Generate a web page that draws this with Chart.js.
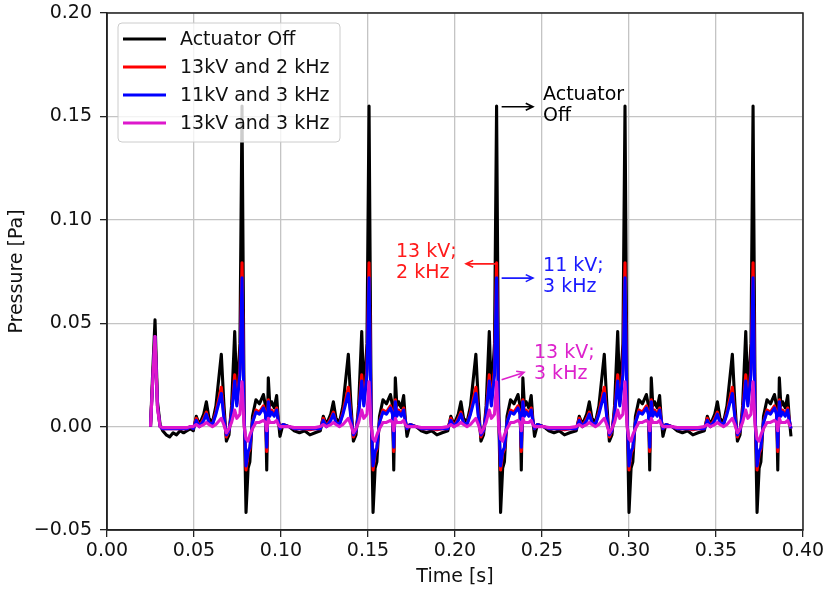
<!DOCTYPE html>
<html>
<head>
<meta charset="utf-8">
<script src="https://cdn.jsdelivr.net/npm/chart.js@4.4.0/dist/chart.umd.min.js"></script>
<style>
  html, body { margin: 0; padding: 0; background: #fff; }
  #wrap { width: 827px; height: 591px; }
</style>
</head>
<body>
<div id="wrap"><canvas id="pressureChart" width="827" height="591"></canvas></div>
<script>
// times (s) of the big spikes, one per cycle
const peakTimes = [0.0776, 0.1506, 0.2239, 0.2977, 0.3713];
const endTime = 0.3932;

// first little spike at the start of the record
const startTimes = [0.0250, 0.0262, 0.0276, 0.0290, 0.0305, 0.0320, 0.0340, 0.0360, 0.0380, 0.0400, 0.0420, 0.0440, 0.0460, 0.0480];
const offStart   = [0, 0.025, 0.0516, 0.012, 0.001, -0.002, -0.004, -0.005, -0.003, -0.004, -0.002, -0.003, -0.002, -0.001];
const red2kStart = [0, 0.021, 0.0436, 0.010, 0.000, -0.001, -0.001, -0.001, -0.001, -0.001, -0.001, -0.001, -0.001, 0];
const blue3kStart = [0, 0.021, 0.0436, 0.010, 0.000, -0.001, -0.001, -0.001, -0.001, -0.001, -0.001, -0.001, -0.001, 0];
const mag3kStart = [0, 0.021, 0.0436, 0.009, 0.000, -0.0005, -0.0005, -0.0005, -0.0005, -0.0005, -0.0005, -0.0005, -0.0005, 0];

// one cycle, time relative to the spike (s)
const cycleOffsets = [-0.0280, -0.0263, -0.0245, -0.0220, -0.0205, -0.0190, -0.0170, -0.0150, -0.0119, -0.0105,
  -0.0090, -0.0075, -0.0060, -0.0042, -0.0030, -0.0012, 0, 0.0012, 0.0023, 0.0035,
  0.0045, 0.0060, 0.0080, 0.0100, 0.0123, 0.0135, 0.0142, 0.0151, 0.0160, 0.0170,
  0.0185, 0.0199, 0.0208, 0.0218, 0.0235, 0.0270, 0.0300, 0.0330, 0.0360, 0.0390, 0.0420];

const offCycle = [-0.002, 0.005, 0.001, 0.006, 0.012, 0.004, 0.002, 0.010, 0.035, 0.012,
  -0.007, -0.004, 0.010, 0.046, 0.015, 0.040, 0.155, 0.010, -0.0415, -0.020,
  -0.017, 0.005, 0.013, 0.011, 0.0155, 0.010, -0.021, 0.0236, 0.010, 0.012,
  0.009, 0.015, 0.004, -0.0047, 0.001, 0.000, -0.002, -0.003, -0.002, -0.004, -0.003];

const red2kCycle = [-0.001, 0.004, 0.000, 0.004, 0.007, 0.002, 0.001, 0.007, 0.019, 0.006,
  -0.005, -0.002, 0.007, 0.025, 0.011, 0.028, 0.0792, 0.005, -0.021, -0.013,
  -0.011, 0.002, 0.008, 0.007, 0.010, 0.007, -0.012, 0.013, 0.006, 0.008,
  0.006, 0.009, 0.003, -0.001, 0.001, 0.000, -0.001, -0.001, -0.001, -0.0015, -0.001];

const blue3kCycle = [-0.001, 0.003, 0.000, 0.003, 0.006, 0.002, 0.001, 0.006, 0.016, 0.005,
  -0.004, -0.002, 0.006, 0.022, 0.010, 0.025, 0.072, 0.005, -0.019, -0.012,
  -0.010, 0.002, 0.007, 0.006, 0.009, 0.006, -0.010, 0.012, 0.005, 0.007,
  0.005, 0.008, 0.003, -0.001, 0.001, 0.000, -0.001, -0.001, -0.001, -0.001, -0.001];

const mag3kCycle = [0.000, 0.001, 0.000, 0.001, 0.002, 0.001, 0.000, 0.001, 0.004, 0.001,
  -0.003, -0.001, 0.002, 0.008, 0.004, 0.006, 0.0217, 0.000, -0.006, -0.007,
  -0.004, -0.001, 0.002, 0.002, 0.003, 0.002, -0.002, 0.004, 0.002, 0.002,
  0.002, 0.003, 0.001, 0.000, 0.000, 0.000, -0.0005, -0.0005, -0.0005, -0.0005, -0.0005];

const seriesLabels = ["Actuator Off", "13kV and 2 kHz", "11kV and 3 kHz", "13kV and 3 kHz"];
const seriesColors = ["#000000", "#ff0000", "#0000ff", "#dd18cc"];

const xTicks = [0, 0.05, 0.10, 0.15, 0.20, 0.25, 0.30, 0.35, 0.40];
const yTicks = [-0.05, 0, 0.05, 0.10, 0.15, 0.20];

// text notes with arrows, in data units
const notes = [
  { lines: ["Actuator", "Off"], color: "#000000", tx: 0.2506, ty: 0.1604, from: [0.2268, 0.1547], to: [0.2448, 0.1547] },
  { lines: ["13 kV;", "2 kHz"], color: "#ff1a1a", tx: 0.1661, ty: 0.0845, from: [0.2240, 0.0787], to: [0.2063, 0.0787] },
  { lines: ["11 kV;", "3 kHz"], color: "#1a1aff", tx: 0.2506, ty: 0.0778, from: [0.2268, 0.0718], to: [0.2448, 0.0718] },
  { lines: ["13 kV;", "3 kHz"], color: "#dd22cc", tx: 0.2454, ty: 0.0357, from: [0.2268, 0.0227], to: [0.2397, 0.0262] }
];

function buildSeries(startVals, cycleVals) {
  const pts = startTimes.map((t, i) => ({ x: t, y: startVals[i] }));
  peakTimes.forEach(tp => {
    cycleOffsets.forEach((d, i) => {
      const t = +(tp + d).toFixed(5);
      if (t <= endTime) pts.push({ x: t, y: cycleVals[i] });
    });
  });
  return pts;
}

const allSeries = [
  buildSeries(offStart, offCycle),
  buildSeries(red2kStart, red2kCycle),
  buildSeries(blue3kStart, blue3kCycle),
  buildSeries(mag3kStart, mag3kCycle)
];

const FONT = "DejaVu Sans";
Chart.defaults.font.family = FONT;
Chart.defaults.font.size = 19;
Chart.defaults.color = "#111";

function fmt(v) {
  if (Math.abs(v) < 1e-9) return "0.00";
  return (v < 0 ? "\u2212" : "") + Math.abs(v).toFixed(2);
}

const frameAndNotes = {
  id: "frameAndNotes",
  afterDatasetsDraw(chart) {
    const ctx = chart.ctx;
    const a = chart.chartArea;
    const xs = chart.scales.x;
    const ys = chart.scales.y;

    // notes
    ctx.save();
    ctx.font = "19px " + FONT;
    ctx.textBaseline = "middle";
    ctx.textAlign = "left";
    notes.forEach(n => {
      ctx.fillStyle = n.color;
      n.lines.forEach((line, i) => {
        ctx.fillText(line, xs.getPixelForValue(n.tx), ys.getPixelForValue(n.ty) + i * 21);
      });
      const x1 = xs.getPixelForValue(n.from[0]), y1 = ys.getPixelForValue(n.from[1]);
      const x2 = xs.getPixelForValue(n.to[0]), y2 = ys.getPixelForValue(n.to[1]);
      const ang = Math.atan2(y2 - y1, x2 - x1);
      ctx.strokeStyle = n.color;
      ctx.lineWidth = 1.6;
      ctx.beginPath();
      ctx.moveTo(x1, y1);
      ctx.lineTo(x2, y2);
      ctx.moveTo(x2 - 8 * Math.cos(ang - 0.45), y2 - 8 * Math.sin(ang - 0.45));
      ctx.lineTo(x2, y2);
      ctx.lineTo(x2 - 8 * Math.cos(ang + 0.45), y2 - 8 * Math.sin(ang + 0.45));
      ctx.stroke();
    });

    // legend
    const lx = a.left + 11, ly = a.top + 10, lw = 222, lh = 119;
    ctx.beginPath();
    ctx.roundRect(lx, ly, lw, lh, 4);
    ctx.fillStyle = "rgba(255,255,255,0.8)";
    ctx.fill();
    ctx.strokeStyle = "#cccccc";
    ctx.lineWidth = 1;
    ctx.stroke();
    chart.data.datasets.forEach((ds, i) => {
      const ry = ly + 16 + i * 28;
      ctx.strokeStyle = ds.borderColor;
      ctx.lineWidth = 3;
      ctx.beginPath();
      ctx.moveTo(lx + 5, ry);
      ctx.lineTo(lx + 48, ry);
      ctx.stroke();
      ctx.fillStyle = "#111";
      ctx.fillText(ds.label, lx + 62, ry + 1);
    });

    // frame
    ctx.strokeStyle = "#222";
    ctx.lineWidth = 1.5;
    ctx.strokeRect(a.left, a.top, a.right - a.left, a.bottom - a.top);
    ctx.restore();
  }
};

const ctx = document.getElementById("pressureChart").getContext("2d");
new Chart(ctx, {
  type: "line",
  data: {
    datasets: allSeries.map((pts, i) => ({
      label: seriesLabels[i],
      data: pts,
      borderColor: seriesColors[i],
      backgroundColor: seriesColors[i],
      borderWidth: 3.1,
      borderJoinStyle: "round",
      pointRadius: 0,
      tension: 0,
      fill: false,
      order: 4 - i
    }))
  },
  options: {
    responsive: false,
    animation: false,
    layout: { padding: { left: 0, right: 24, top: 13, bottom: 0 } },
    plugins: { legend: { display: false }, tooltip: { enabled: false } },
    scales: {
      x: {
        type: "linear",
        min: 0,
        max: 0.4,
        afterFit(scale) {
          scale.height = 61;
          scale.paddingLeft = 0;
          scale.paddingRight = 0;
        },
        afterBuildTicks(scale) { scale.ticks = xTicks.map(v => ({ value: v })); },
        ticks: { callback: v => fmt(v), padding: 3, maxRotation: 0, color: "#111" },
        grid: { color: "#c4c4c4", lineWidth: 1.3, tickColor: "#222", tickLength: 7, tickWidth: 1.3 },
        border: { color: "#222", width: 1.5 },
        title: { display: true, text: "Time [s]", color: "#111", padding: { top: 0, bottom: 3 } }
      },
      y: {
        min: -0.05,
        max: 0.2,
        afterFit(scale) {
          scale.width = 107;
          scale.paddingTop = 0;
          scale.paddingBottom = 0;
        },
        afterBuildTicks(scale) { scale.ticks = yTicks.map(v => ({ value: v })); },
        ticks: { callback: v => fmt(v), padding: 8, color: "#111" },
        grid: { color: "#c4c4c4", lineWidth: 1.3, tickColor: "#222", tickLength: 7, tickWidth: 1.3 },
        border: { color: "#222", width: 1.5 },
        title: { display: true, text: "Pressure [Pa]", color: "#111", padding: { top: 6, bottom: 0 } }
      }
    }
  },
  plugins: [frameAndNotes]
});
</script>
</body>
</html>
